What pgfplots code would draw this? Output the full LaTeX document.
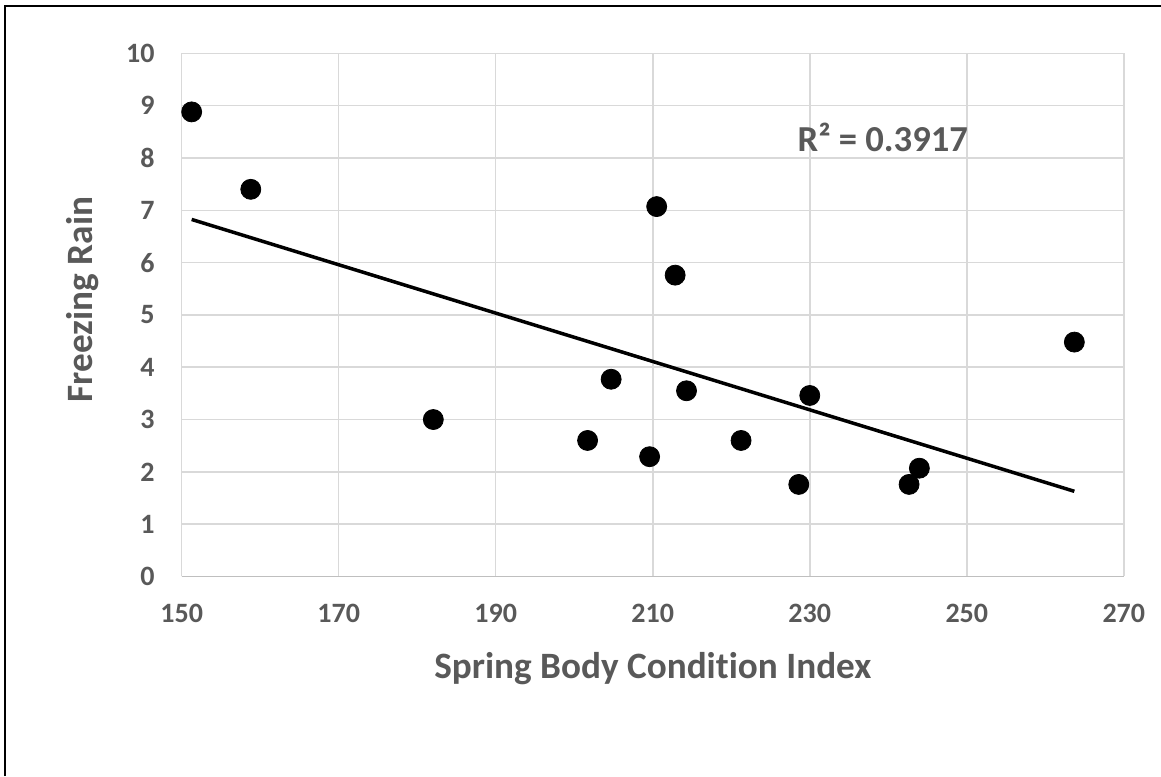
\documentclass[border=0pt]{standalone}
\usepackage{pgfplots}
\usepackage{pgfplotstable}
\pgfplotsset{compat=1.18}
\usepackage{fontspec}
\setmainfont{Carlito}[Ligatures=NoCommon]
\definecolor{txtgray}{HTML}{595959}
\definecolor{gridgray}{HTML}{D9D9D9}
\definecolor{axgray}{HTML}{BFBFBF}
\pgfplotstableread{
x y
151.27 8.88
158.8 7.40
182.05 3.00
201.7 2.60
204.7 3.77
209.6 2.29
210.5 7.07
212.85 5.76
214.3 3.55
221.25 2.60
228.6 1.76
230.0 3.46
242.65 1.76
243.96 2.07
263.7 4.48
}\datatable
\begin{document}
\begin{tikzpicture}
\useasboundingbox (0,0) rectangle (580.5pt,388pt);
\fill[white] (0,0) rectangle (580.5pt,388pt);
\begin{axis}[
  at={(90.85pt,99.75pt)}, anchor=south west,
  scale only axis, width=471.05pt, height=261.6pt,
  xmin=150, xmax=270, ymin=0, ymax=10,
  xtick={150,170,...,270}, ytick={0,1,...,10},
  grid=major, major grid style={gridgray, line width=0.75pt},
  axis x line*=bottom, axis y line*=left,
  x axis line style={axgray, line width=0.75pt, -},
  y axis line style={gridgray, line width=0.75pt, -},
  tick style={draw=none},
  /pgf/number format/assume math mode=true,
  ticklabel style={font=\fontsize{14}{16}\selectfont\bfseries, text=txtgray, inner sep=0pt},
  xticklabel style={anchor=base, yshift=-23.25pt},
  yticklabel style={anchor=east, xshift=-13.35pt},
  xlabel={Spring Body Condition Index},
  ylabel={Freezing Rain},
  xlabel style={font=\fontsize{18.6}{21}\selectfont\bfseries, text=txtgray, inner sep=0pt, at={(axis description cs:0.5,0)}, anchor=base, yshift=-50.75pt},
  ylabel style={font=\fontsize{18.6}{21}\selectfont\bfseries, text=txtgray, inner sep=0pt, at={(axis description cs:-0.09447,0.5294)}, anchor=base},
  clip=false,
]
\addplot[only marks, mark=*, mark size=5pt, mark options={fill=black, draw=black}] table[x=x, y=y] {\datatable};
\addplot[black, line width=1.75pt, no marks] table[x=x, y={create col/linear regression={y=y}}] {\datatable};
\node[anchor=base, font=\fontsize{18.3}{21}\selectfont\bfseries, text=txtgray, inner sep=0pt] at (axis cs:239.3,8.12) {R² = 0.3917};
\end{axis}
\draw[black, line width=1pt] (2.5pt,0) -- (2.5pt,385pt) -- (580.5pt,385pt);
\end{tikzpicture}
\end{document}
